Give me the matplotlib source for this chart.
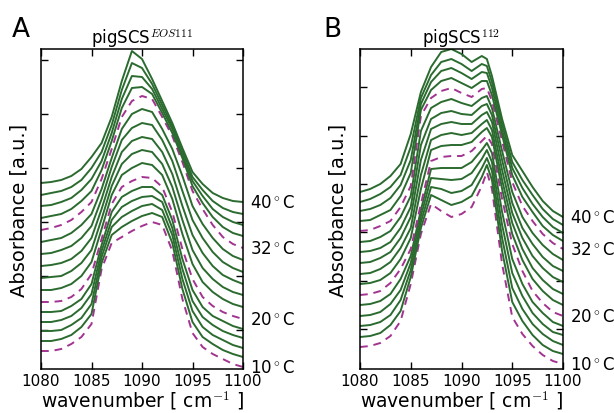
import matplotlib.pyplot as plt

plt.rcParams['mathtext.fontset'] = 'cm'

# temperatures (deg C), one spectrum per temperature, stacked with offsets
temps = [10, 12, 14, 16, 18, 20, 22, 24, 26, 28, 30, 32, 34, 36, 38, 40]
dashed_temps = [10, 20, 32]
label_temps = [10, 20, 32, 40]

# panel A: pigSCS EOS111
wn_a = [1080, 1081, 1082, 1083, 1084, 1085, 1086, 1087, 1088, 1089, 1090,
        1091, 1092, 1093, 1094, 1095, 1096, 1097, 1098, 1099, 1100]
spec_a = [
    [18, 18, 20, 25, 32, 45, 100, 126, 132, 138, 143, 147, 144, 118, 70, 36, 22, 15, 10, 5, 2],          # 10
    [28, 28, 30, 34, 42, 55, 106, 134, 142, 148, 153, 156, 152, 126, 80, 47, 32, 25, 19, 15, 12],        # 12
    [38, 38, 39, 44, 51, 65, 112, 142, 152, 158, 163, 165, 159, 134, 90, 58, 42, 34, 29, 24, 21],        # 14
    [47, 47, 49, 53, 61, 75, 118, 149, 162, 168, 172, 173, 167, 141, 100, 68, 52, 44, 38, 34, 31],       # 16
    [57, 57, 58, 63, 70, 85, 124, 157, 172, 178, 182, 182, 174, 149, 110, 79, 62, 53, 48, 43, 40],       # 18
    [67, 67, 68, 72, 80, 95, 130, 165, 182, 188, 192, 191, 182, 157, 120, 90, 72, 63, 57, 53, 50],       # 20
    [79, 79, 81, 85, 93, 107, 140, 174, 194, 201, 206, 204, 194, 170, 135, 105, 87, 77, 70, 65, 62],     # 22
    [91, 92, 93, 98, 106, 119, 150, 183, 205, 215, 219, 217, 205, 182, 149, 119, 101, 90, 82, 77, 74],   # 24
    [103, 104, 106, 110, 118, 131, 160, 192, 217, 228, 232, 230, 217, 195, 163, 134, 116, 103, 94, 89, 85],   # 26
    [115, 116, 119, 123, 131, 143, 170, 202, 229, 241, 246, 244, 229, 208, 178, 149, 131, 117, 107, 101, 97],  # 28
    [127, 129, 131, 136, 144, 155, 180, 211, 240, 255, 260, 257, 240, 220, 193, 163, 145, 131, 120, 113, 109], # 30
    [139, 141, 144, 149, 157, 167, 190, 220, 252, 268, 273, 270, 252, 233, 207, 178, 160, 144, 132, 125, 121], # 32
    [151, 153, 155, 160, 168, 178, 199, 228, 261, 281, 282, 275, 256, 236, 211, 183, 166, 152, 142, 136, 133], # 34
    [163, 164, 167, 171, 179, 190, 208, 236, 270, 293, 292, 280, 260, 240, 214, 188, 173, 160, 152, 147, 144], # 36
    [174, 176, 178, 182, 189, 201, 217, 244, 279, 306, 301, 285, 264, 243, 218, 192, 179, 168, 161, 157, 155], # 38
    [186, 187, 189, 193, 200, 212, 226, 252, 288, 318, 310, 290, 268, 246, 221, 197, 185, 176, 171, 168, 167], # 40
]

# panel B: pigSCS 112
wn_b = [1080, 1081, 1082, 1083, 1084, 1085, 1086, 1087, 1088, 1089, 1090,
        1091, 1092, 1092.5, 1093, 1094, 1095, 1096, 1097, 1098, 1099, 1100]
spec_b = [
    [22, 23, 26, 33, 48, 85, 135, 165, 158, 152, 155, 162, 183, 197, 180, 105, 52, 35, 23, 14, 8, 5],          # 10
    [32, 33, 36, 44, 58, 92, 141, 174, 169, 164, 167, 173, 192, 204, 189, 118, 67, 48, 34, 24, 18, 15],        # 12
    [43, 44, 47, 54, 69, 99, 147, 182, 180, 176, 178, 184, 201, 211, 198, 131, 81, 60, 45, 35, 28, 24],        # 14
    [53, 54, 57, 65, 79, 106, 153, 191, 190, 189, 190, 196, 210, 219, 207, 144, 96, 73, 56, 45, 37, 34],       # 16
    [64, 65, 68, 75, 90, 113, 159, 200, 201, 201, 201, 207, 219, 226, 216, 157, 110, 85, 67, 56, 47, 43],      # 18
    [74, 75, 78, 86, 100, 120, 165, 208, 212, 213, 213, 218, 228, 233, 225, 170, 125, 98, 78, 66, 57, 53],     # 20
    [85, 86, 89, 96, 110, 131, 180, 219, 223, 224, 224, 227, 237, 241, 232, 180, 135, 109, 90, 78, 69, 64],    # 22
    [95, 96, 100, 107, 121, 141, 194, 229, 234, 236, 234, 236, 245, 249, 239, 189, 146, 120, 101, 89, 80, 75], # 24
    [106, 107, 111, 117, 131, 152, 209, 240, 245, 247, 245, 245, 254, 257, 247, 199, 156, 131, 113, 101, 92, 87],    # 26
    [117, 118, 121, 127, 141, 162, 224, 250, 256, 258, 255, 254, 263, 265, 254, 209, 166, 141, 125, 112, 103, 98],   # 28
    [127, 128, 132, 138, 152, 173, 238, 261, 267, 270, 266, 263, 271, 273, 261, 218, 177, 152, 136, 124, 115, 109],  # 30
    [138, 139, 143, 148, 162, 183, 253, 271, 278, 281, 276, 272, 280, 281, 268, 228, 187, 163, 148, 135, 126, 120],  # 32
    [148, 149, 154, 159, 173, 196, 259, 279, 288, 291, 286, 281, 288, 288, 274, 234, 194, 172, 157, 143, 134, 128],  # 34
    [158, 160, 164, 171, 184, 209, 265, 287, 298, 301, 296, 290, 297, 296, 281, 239, 201, 181, 165, 152, 142, 136],  # 36
    [167, 170, 175, 182, 194, 222, 271, 294, 307, 310, 305, 298, 305, 303, 287, 245, 207, 189, 174, 160, 150, 144],  # 38
    [177, 180, 185, 193, 205, 235, 277, 302, 317, 320, 315, 307, 313, 310, 293, 250, 214, 198, 182, 168, 158, 152],  # 40
]

yticks_a = [39, 93, 147, 201, 255, 309]
yticks_b = [40, 88, 137, 185, 233, 282]

green = '#2b6b2f'
purple = '#a23490'


def draw_panel(ax, wn, spec, title, yticks):
    for t, row in zip(temps, spec):
        if t in dashed_temps:
            ax.plot(wn, row, color=purple, lw=1.4, ls=(0, (4, 3)))
        else:
            ax.plot(wn, row, color=green, lw=1.4)
        if t in label_temps:
            ax.annotate('%d$^\\circ$C' % t, xy=(wn[-1], row[-1]), xytext=(5, 0),
                        textcoords='offset points', va='center', ha='left',
                        fontsize=12, annotation_clip=False)
    ax.set_xlim(1080, 1100)
    ax.set_ylim(0, 320)
    ax.set_xticks([1080, 1085, 1090, 1095, 1100])
    ax.set_yticks(yticks)
    ax.tick_params(direction='in', top=True, right=True, length=5, width=1,
                   labelsize=11, labelleft=False, pad=3)
    for s in ax.spines.values():
        s.set_linewidth(1.1)
    ax.set_title(title, fontsize=12, pad=4)
    ax.set_xlabel('wavenumber [ cm$^{-1}$ ]', fontsize=13.5, labelpad=0)
    ax.set_ylabel('Absorbance [a.u.]', fontsize=14)
    ax.yaxis.set_label_coords(-0.06, 0.5)


fig = plt.figure(figsize=(6.14, 4.14), dpi=100)
ax_a = fig.add_axes([41 / 614, 44 / 414, 202 / 614, 320 / 414])
ax_b = fig.add_axes([360 / 614, 44 / 414, 203 / 614, 320 / 414])

draw_panel(ax_a, wn_a, spec_a, 'pigSCS$^{EOS111}$', yticks_a)
draw_panel(ax_b, wn_b, spec_b, 'pigSCS$^{112}$', yticks_b)

fig.text(12 / 614, 1 - 37 / 414, 'A', fontsize=19, va='baseline')
fig.text(323 / 614, 1 - 37 / 414, 'B', fontsize=19, va='baseline')

plt.savefig('out.png', dpi=100)
plt.close()
